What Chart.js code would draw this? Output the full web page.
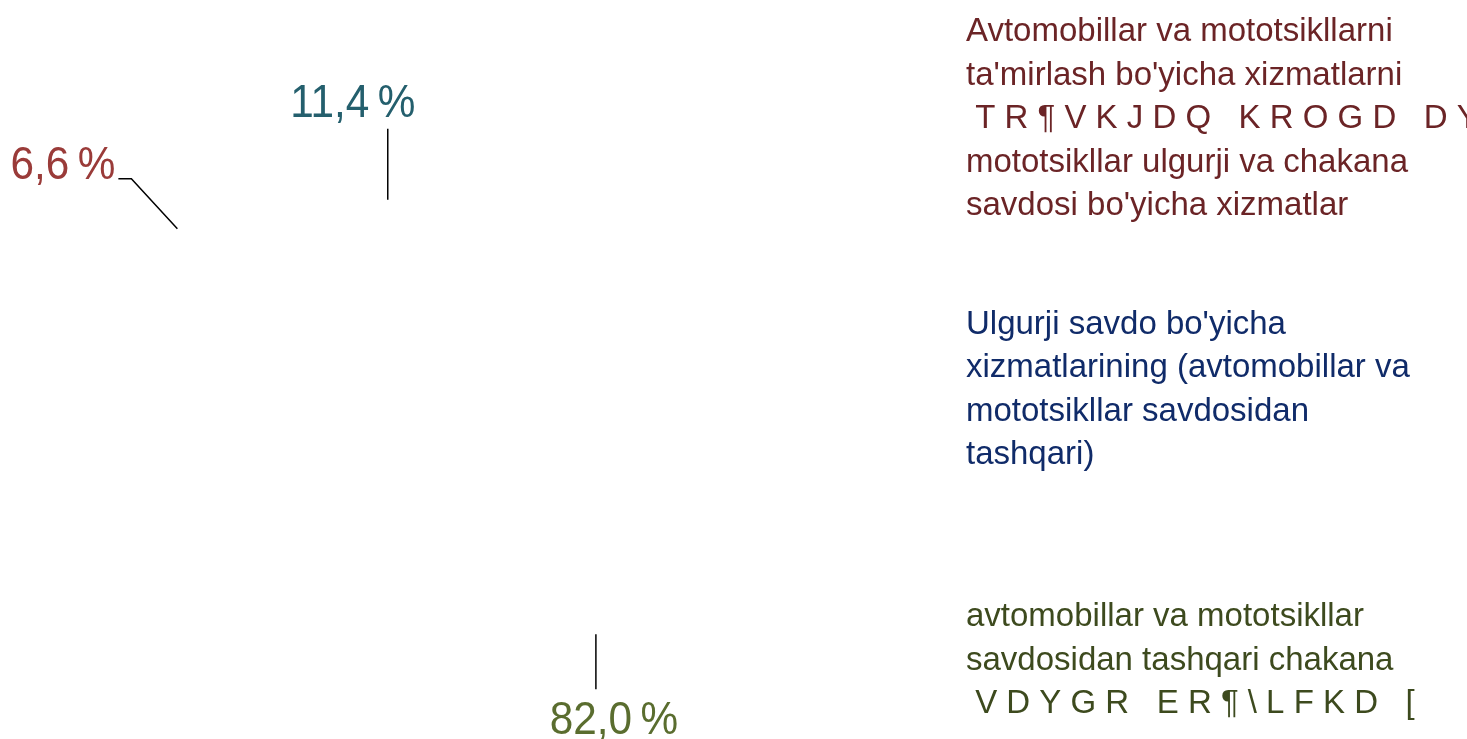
<!DOCTYPE html>
<html>
<head>
<meta charset="utf-8">
<script src="https://cdn.jsdelivr.net/npm/chart.js@4"></script>
<style>
  html, body { margin: 0; padding: 0; background: #fff; overflow: hidden; }
  #wrap { position: relative; width: 1467px; height: 739px; }
</style>
</head>
<body>
<div id="wrap"><canvas id="tradeCanvas"></canvas></div>
<script>
// legend texts, one array of lines per category (kept as in the source, garbled line included)
const categories = [
  ["Avtomobillar va mototsikllarni", "ta'mirlash bo'yicha xizmatlarni", " T R \u00b6 V K J D Q   K R O G D   D Y", "mototsikllar ulgurji va chakana", "savdosi bo'yicha xizmatlar"],
  ["Ulgurji savdo bo'yicha", "xizmatlarining (avtomobillar va", "mototsikllar savdosidan", "tashqari)"],
  ["avtomobillar va mototsikllar", "savdosidan tashqari chakana", " V D Y G R   E R \u00b6 \\ L F K D   ["]
];
const shares = [6.6, 11.4, 82.0];

const labelColors = ['#9a3b39', '#245f6d', '#5a6d2f'];
const legendColors = ['#6b2426', '#102b69', '#3d4a1e'];

// "6,6 %" with a thin space before the percent sign
const fmtShare = v => v.toFixed(1).replace('.', ',') + '\u2009%';

// leader lines + percent labels, anchored on each slice's outer edge
const sliceLabels = {
  id: 'sliceLabels',
  afterDatasetsDraw(chart, args, opts) {
    const ctx = chart.ctx;
    const meta = chart.getDatasetMeta(0);
    meta.data.forEach((arc, i) => {
      const p = opts.place[i];
      const { x, y, startAngle, endAngle, outerRadius } = arc.getProps(['x', 'y', 'startAngle', 'endAngle', 'outerRadius'], true);
      const a = startAngle + p.anchorAt * (endAngle - startAngle);
      const ax = x + Math.cos(a) * outerRadius;
      const ay = y + Math.sin(a) * outerRadius;

      ctx.save();
      ctx.strokeStyle = '#000';
      ctx.lineWidth = 1.5;
      ctx.beginPath();
      ctx.moveTo(ax, ay);
      p.leader.forEach(([dx, dy]) => ctx.lineTo(ax + dx, ay + dy));
      ctx.stroke();

      ctx.translate(ax + p.dx, ay + p.dy);
      ctx.scale(opts.squeeze, 1);
      ctx.fillStyle = labelColors[i];
      ctx.font = opts.font;
      ctx.textAlign = p.align;
      ctx.textBaseline = 'alphabetic';
      ctx.fillText(fmtShare(shares[i]), 0, 0);
      ctx.restore();
    });
  }
};

// text-only legend on the right
const sideLegend = {
  id: 'sideLegend',
  afterDraw(chart, args, opts) {
    const ctx = chart.ctx;
    ctx.save();
    ctx.font = opts.font;
    ctx.textBaseline = 'alphabetic';
    ctx.textAlign = 'left';
    chart.data.labels.forEach((lines, i) => {
      ctx.fillStyle = legendColors[i];
      lines.forEach((line, j) => {
        ctx.fillText(line, opts.x, opts.top + i * opts.itemGap + j * opts.lineHeight);
      });
    });
    ctx.restore();
  }
};

const ctxPie = document.getElementById('tradeCanvas').getContext('2d');
const tradeChart = new Chart(ctxPie, {
  type: 'pie',
  data: {
    labels: categories,
    datasets: [{
      data: shares,
      backgroundColor: '#ffffff',
      borderColor: '#ffffff',
      borderWidth: 0,
      radius: 306
    }]
  },
  options: {
    responsive: true,
    maintainAspectRatio: false,
    animation: false,
    rotation: -40,
    layout: {
      padding: { left: 0, right: 823.8, top: 258.2, bottom: 0 }
    },
    events: [],
    plugins: {
      legend: { display: false },
      tooltip: { enabled: false },
      sliceLabels: {
        font: '47px "Liberation Sans", Arial, sans-serif',
        squeeze: 0.9,
        place: [
          { anchorAt: 0.5, leader: [[-46, -50], [-59, -50]], dx: -62, dy: -50, align: 'right' },
          { anchorAt: 0.7, leader: [[0, -71]], dx: -35, dy: -83, align: 'center' },
          { anchorAt: 0.31, leader: [[0, 55]], dx: 18, dy: 100, align: 'center' }
        ]
      },
      sideLegend: {
        font: '33px "Liberation Sans", Arial, sans-serif',
        x: 966,
        top: 41,
        itemGap: 292.5,
        lineHeight: 43.5
      }
    }
  },
  plugins: [sliceLabels, sideLegend]
});
</script>
</body>
</html>
